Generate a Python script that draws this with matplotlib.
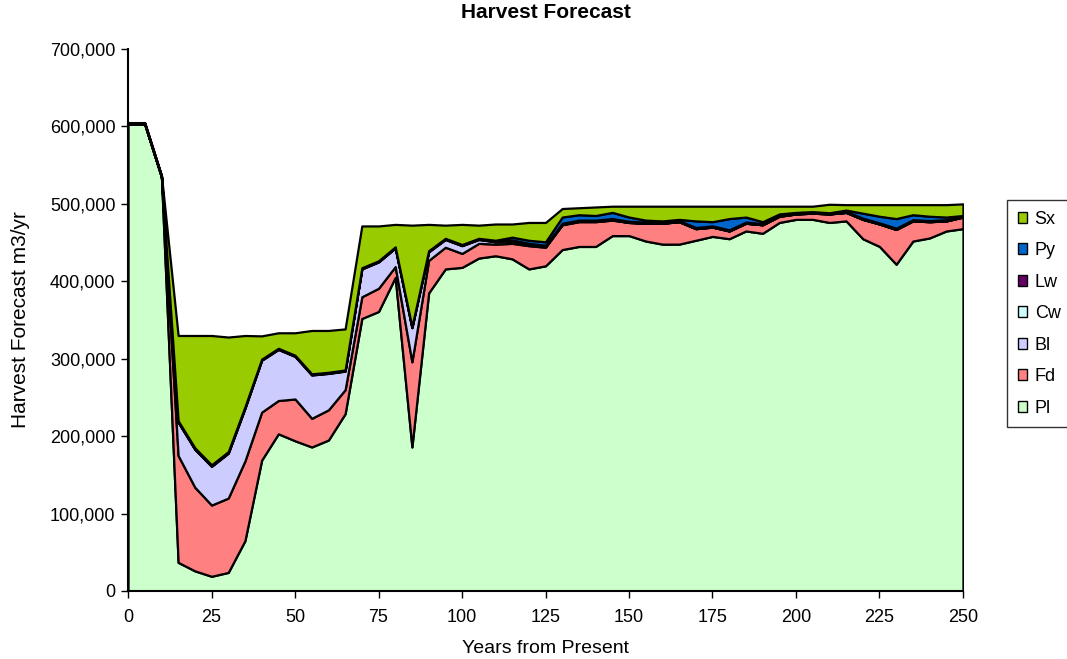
import matplotlib.pyplot as plt
from matplotlib.patches import Patch
from matplotlib.ticker import FuncFormatter

plt.rcParams['font.family'] = ['Liberation Sans', 'DejaVu Sans']

# Years from present (5-year steps)
years = list(range(0, 255, 5))

# Harvest volume per species, m3/yr
pl = [603000, 603000, 535000, 37000, 26000, 19000, 24000, 65000, 169000, 203000,
      194000, 186000, 195000, 229000, 352000, 361000, 405000, 186000, 385000, 416000,
      418000, 430000, 433000, 429000, 416000, 420000, 441000, 445000, 445000, 459000,
      459000, 452000, 448000, 448000, 453000, 458000, 455000, 465000, 462000, 476000,
      480000, 480000, 476000, 478000, 455000, 445000, 422000, 452000, 456000, 465000,
      468000]
fd = [0, 0, 0, 138000, 108000, 92000, 96000, 103000, 62000, 43000,
      54000, 37000, 39000, 31000, 28000, 30000, 14000, 110000, 42000, 28000,
      18000, 19000, 15000, 20000, 30000, 24000, 32000, 32000, 32000, 20000,
      17000, 23000, 27000, 29000, 15000, 12000, 10000, 10000, 11000, 8000,
      7000, 8000, 11000, 11000, 25000, 29000, 45000, 26000, 21000, 13000,
      15000]
bl = [0, 0, 0, 43000, 49000, 50000, 58000, 68000, 67000, 66000,
      55000, 56000, 47000, 24000, 36000, 34000, 24000, 44000, 11000, 10000,
      10000, 5000, 3000, 3000, 1500, 1000, 500, 500, 500, 500,
      0, 0, 0, 0, 0, 0, 0, 0, 0, 0,
      0, 0, 0, 0, 0, 0, 0, 0, 0, 0,
      0]
cw = [0, 0, 0] + [500] * 48
lw = [1000, 1000, 1000, 1500, 1500, 1500, 1500, 1500] + [1000] * 43
py = [0, 0, 0, 0, 0, 0, 0, 0, 0, 0,
      0, 0, 0, 0, 0, 0, 0, 0, 0, 0,
      0, 0, 500, 3500, 4000, 4500, 8000, 7000, 6000, 8000,
      5500, 2500, 1500, 1500, 8500, 5500, 14500, 6500, 2500, 1500,
      500, 500, 0, 1500, 6500, 8500, 12500, 6500, 5500, 3500,
      500]
sx = [1000, 1000, 1000, 110000, 145000, 167000, 148000, 92000, 30000, 20000,
      29000, 56000, 54000, 53000, 54000, 45000, 29000, 131000, 34000, 17000,
      26000, 17000, 21000, 17000, 23000, 25000, 11000, 9000, 11000, 8000,
      14000, 18000, 19000, 17000, 19000, 20000, 16000, 14000, 20000, 10000,
      8000, 7000, 11000, 7000, 11000, 15000, 18000, 13000, 15000, 16000,
      15000]

species = ["Pl", "Fd", "Bl", "Cw", "Lw", "Py", "Sx"]
colors = ["#CCFFCC", "#FF8080", "#CCCCFF", "#CCFFFF", "#660066", "#0066CC", "#99CC00"]

fig = plt.figure(figsize=(10.67, 6.59), dpi=100)
ax = fig.add_axes([0.12, 0.1032, 0.7825, 0.8224])

ax.stackplot(years, pl, fd, bl, cw, lw, py, sx, colors=colors,
             edgecolor="black", linewidth=1.6)

ax.set_xlim(0, 250)
ax.set_ylim(0, 700000)
ax.set_xticks(range(0, 251, 25))
ax.set_yticks(range(0, 700001, 100000))
ax.yaxis.set_major_formatter(FuncFormatter(lambda v, p: f"{int(v):,}"))
ax.tick_params(labelsize=13, length=5, width=1, direction="out", pad=4)
ax.tick_params(axis="x", pad=8)

for s in ["top", "right"]:
    ax.spines[s].set_visible(False)
for s in ["left", "bottom"]:
    ax.spines[s].set_linewidth(1.5)

ax.set_title("Harvest Forecast", fontsize=15, fontweight="bold", pad=22)
ax.set_xlabel("Years from Present", fontsize=14, labelpad=10)
ax.set_ylabel("Harvest Forecast m3/yr", fontsize=15, labelpad=14)

handles = [Patch(facecolor=c, edgecolor="black", linewidth=1, label=s)
           for s, c in zip(species, colors)][::-1]
leg = fig.legend(handles=handles, loc="upper left", bbox_to_anchor=(0.9435, 0.6965),
                 fontsize=13, frameon=True, fancybox=False, edgecolor="black",
                 handlelength=0.55, handleheight=0.55, handletextpad=0.4,
                 labelspacing=0.8, borderpad=0.6, borderaxespad=0)
leg.get_frame().set_linewidth(1)

fig.savefig("out.png", dpi=100)
